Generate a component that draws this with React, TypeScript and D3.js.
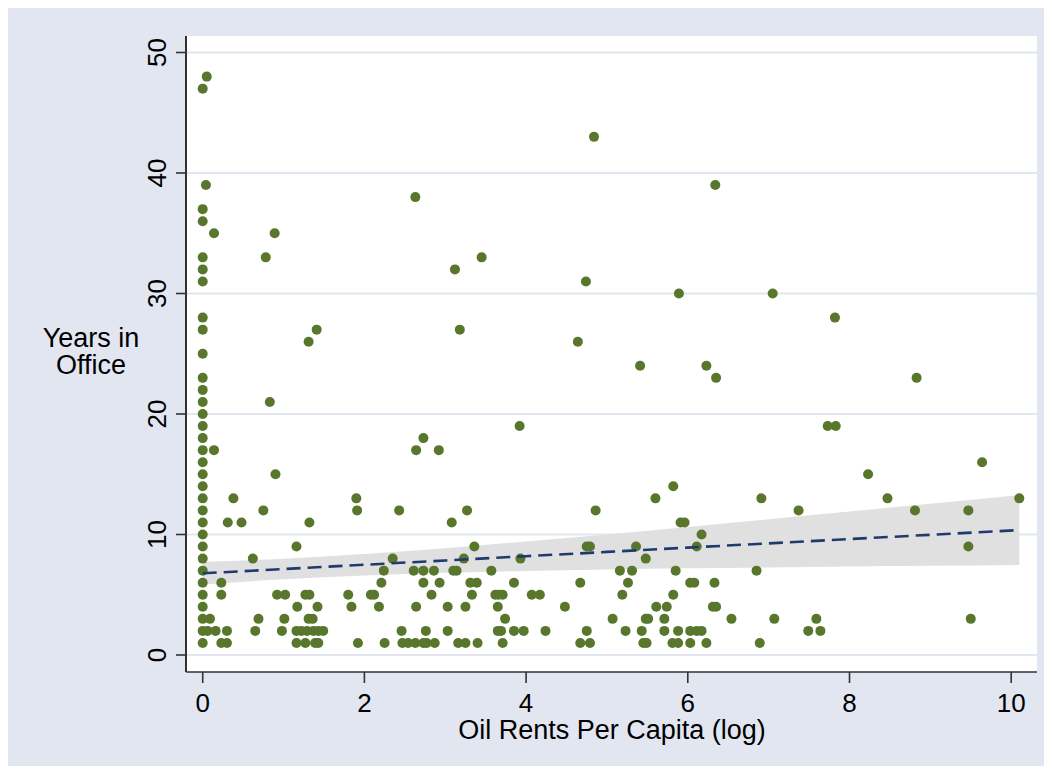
import React from "react";
import * as d3 from "d3";

// Oil rents per capita (log) and years in office, one entry per leader
const oilRents = [
  // x = 0 column
  0,0,0,0,0,0,0,0,0,0,0,0,0,0,0,0,0,0,0,0,0,0,0,0,0,0,0,0,0,0,0,0,
  0.04,0.05,
  0.14,0.14,0.78,0.89,0.83,0.90,0.38,0.75,0.31,0.48,1.32,1.90,1.91,2.43,3.27,3.08,1.16,3.36,0.62,2.35,3.23,
  // 7
  2.24,2.61,2.73,2.86,3.10,3.14,3.57,5.16,5.31,5.85,6.85,
  // 6
  0.23,2.21,2.73,2.93,3.31,3.39,3.85,4.67,5.26,6.03,6.08,6.33,
  // 5
  0.23,0.92,1.02,1.27,1.32,1.80,2.08,2.12,2.83,3.33,3.62,3.66,3.71,4.07,4.17,5.19,5.82,
  // 4
  1.17,1.42,1.84,2.18,2.64,3.03,3.25,3.65,4.48,5.61,5.74,6.31,6.35,
  // 3
  0.09,0.69,1.01,1.31,1.36,3.74,5.07,5.48,5.51,5.71,6.54,7.07,7.59,9.50,
  // 2
  0.06,0.16,0.30,0.65,0.98,1.16,1.22,1.29,1.37,1.43,1.49,2.46,2.76,3.03,3.65,3.69,3.85,3.97,4.24,4.75,5.23,5.43,5.71,5.88,6.03,6.11,6.17,7.49,7.64,
  // 1
  0.23,0.30,1.16,1.27,1.39,1.43,1.92,2.25,2.47,2.54,2.63,2.73,2.77,2.87,3.16,3.25,3.40,3.71,4.67,4.79,5.45,5.49,5.81,5.88,6.03,6.23,6.89,
  // 8 - 43
  3.93,5.48,
  4.75,4.79,5.36,6.11,9.47,
  6.17,
  5.91,5.96,
  4.86,7.37,8.81,9.47,
  5.60,6.91,8.47,10.10,
  5.82,8.23,9.64,2.64,2.92,2.73,3.92,7.73,7.83,6.35,8.83,5.41,6.23,1.31,4.64,1.41,3.18,7.82,5.89,7.05,4.74,3.12,3.45,2.63,6.34,4.84,
];

const yearsInOffice = [
  1,2,3,4,5,6,7,8,9,10,11,12,13,14,15,16,17,18,19,20,21,22,23,25,27,28,31,32,33,36,37,47,
  39,48,
  35,17,33,35,21,15,13,12,11,11,11,13,12,12,12,11,9,9,8,8,8,
  7,7,7,7,7,7,7,7,7,7,7,
  6,6,6,6,6,6,6,6,6,6,6,6,
  5,5,5,5,5,5,5,5,5,5,5,5,5,5,5,5,5,
  4,4,4,4,4,4,4,4,4,4,4,4,4,
  3,3,3,3,3,3,3,3,3,3,3,3,3,3,
  2,2,2,2,2,2,2,2,2,2,2,2,2,2,2,2,2,2,2,2,2,2,2,2,2,2,2,2,2,
  1,1,1,1,1,1,1,1,1,1,1,1,1,1,1,1,1,1,1,1,1,1,1,1,1,1,1,
  8,8,
  9,9,9,9,9,
  10,
  11,11,
  12,12,12,12,
  13,13,13,13,
  14,15,16,17,17,18,19,19,19,23,23,24,24,26,26,27,27,28,30,30,31,32,33,38,39,43,
];

// Linear fit with 95% confidence band
const fitX = [0, 1, 2, 3, 4, 5, 6, 7, 8, 9, 10.1];
const fitY = [6.78, 7.135, 7.49, 7.845, 8.2, 8.555, 8.91, 9.265, 9.62, 9.975, 10.37];
const ciLow = [5.85, 6.28, 6.6, 6.83, 6.98, 7.1, 7.19, 7.27, 7.34, 7.4, 7.47];
const ciHigh = [7.71, 7.99, 8.38, 8.86, 9.42, 10.01, 10.63, 11.26, 11.9, 12.55, 13.27];

const xTicks = [0, 2, 4, 6, 8, 10];
const yTicks = [0, 10, 20, 30, 40, 50];

const W = 1036;
const H = 758;
const FONT = "'Liberation Sans', Arial, Helvetica, sans-serif";

export default function App() {
  const plotL = 178, plotR = 1029, plotT = 28, plotB = 664;
  const x = d3.scaleLinear().domain([0, 10]).range([194.7, 1003.2]);
  const y = d3.scaleLinear().domain([0, 50]).range([647, 44.5]);

  const band = d3
    .area<number>()
    .x((_, i) => x(fitX[i]))
    .y0((_, i) => y(ciLow[i]))
    .y1((_, i) => y(ciHigh[i]))
    .curve(d3.curveMonotoneX)(fitX);
  const line = d3
    .line<number>()
    .x((_, i) => x(fitX[i]))
    .y((_, i) => y(fitY[i]))(fitX);

  return (
    <svg width={W} height={H} style={{ display: "block" }} fontFamily={FONT}>
      <rect x={0} y={0} width={W} height={H} fill="#e2e6f0" />
      <rect x={plotL} y={plotT} width={plotR - plotL} height={plotB - plotT} fill="#ffffff" />
      {yTicks.map((t) => (
        <line key={"g" + t} x1={plotL} x2={plotR} y1={y(t)} y2={y(t)} stroke="#e1e6f0" strokeWidth={2.2} />
      ))}
      <path d={band || ""} fill="#e0e0e0" />
      {oilRents.map((v, i) => (
        <circle key={i} cx={x(v)} cy={y(yearsInOffice[i])} r={5} fill="#58772d" />
      ))}
      <path d={line || ""} fill="none" stroke="#1f3a6e" strokeWidth={2.6} strokeDasharray="14 7" />
      {/* axes */}
      <line x1={plotL} x2={plotL} y1={plotT} y2={plotB} stroke="#000" strokeWidth={1.6} />
      <line x1={plotL} x2={plotR} y1={plotB} y2={plotB} stroke="#333" strokeWidth={1.6} />
      {yTicks.map((t) => (
        <g key={"y" + t}>
          <line x1={plotL - 10} x2={plotL} y1={y(t)} y2={y(t)} stroke="#333" strokeWidth={1.6} />
          <text
            transform={`translate(157.5,${y(t)}) rotate(-90)`}
            textAnchor="middle"
            fontSize={26}
            fill="#000"
          >
            {t}
          </text>
        </g>
      ))}
      {xTicks.map((t) => (
        <g key={"x" + t}>
          <line x1={x(t)} x2={x(t)} y1={plotB} y2={plotB + 11} stroke="#333" strokeWidth={1.6} />
          <text x={x(t)} y={704} textAnchor="middle" fontSize={26} fill="#000">
            {t}
          </text>
        </g>
      ))}
      <text x={604} y={730.5} textAnchor="middle" fontSize={27} fill="#000">
        Oil Rents Per Capita (log)
      </text>
      <text x={83} y={338.7} textAnchor="middle" fontSize={27} fill="#000">
        Years in
      </text>
      <text x={83} y={366} textAnchor="middle" fontSize={27} fill="#000">
        Office
      </text>
    </svg>
  );
}
